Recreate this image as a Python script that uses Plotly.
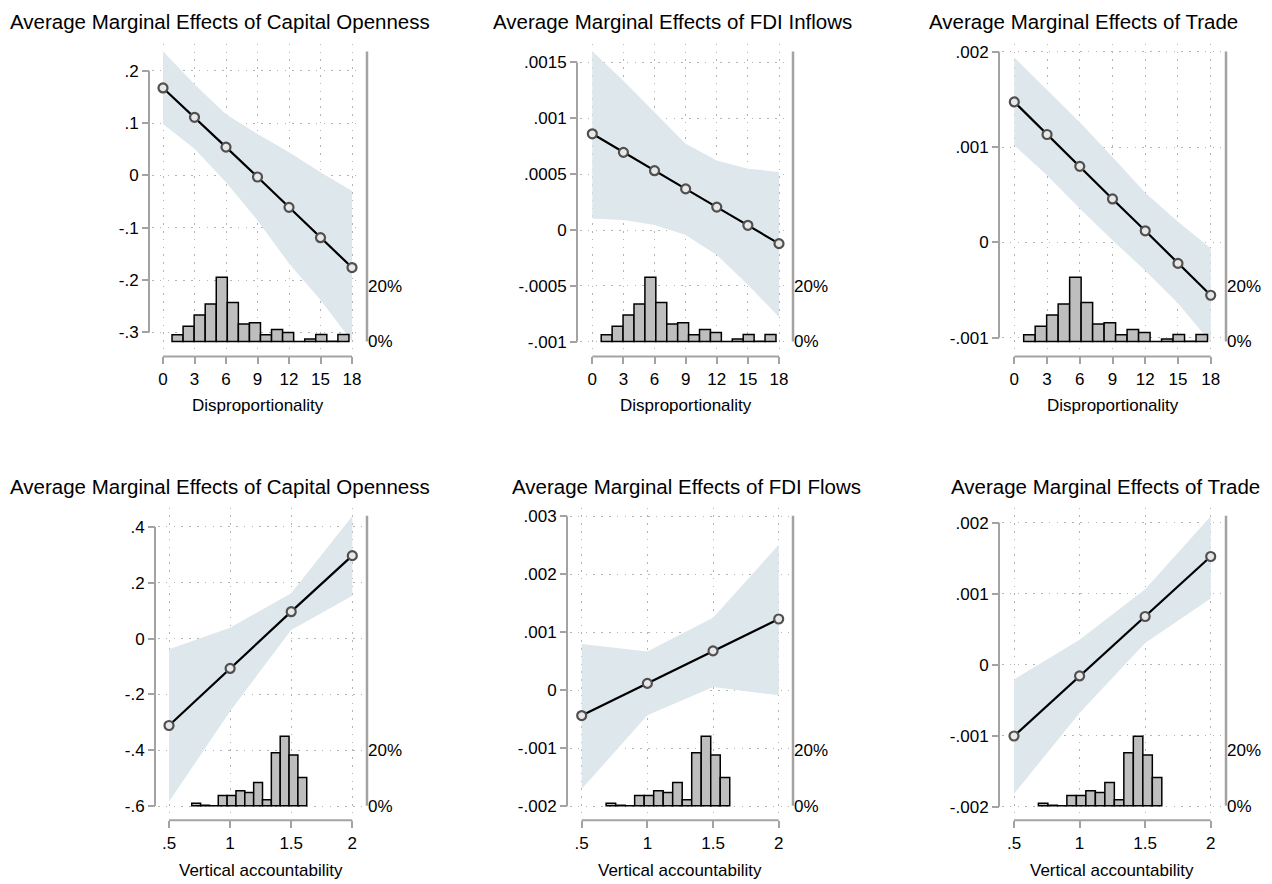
import plotly.graph_objects as go

W, H = 1272, 884

# ---------------- data ----------------
disp_x = [0, 3, 6, 9, 12, 15, 18]
va_x = [0.5, 1.0, 1.5, 2.0]

disp_ticks = [0, 3, 6, 9, 12, 15, 18]
disp_ticklabels = ["0", "3", "6", "9", "12", "15", "18"]
va_ticks = [0.5, 1.0, 1.5, 2.0]
va_ticklabels = [".5", "1", "1.5", "2"]

# Disproportionality models
cap_disp_me = [0.167, 0.111, 0.054, -0.003, -0.061, -0.119, -0.176]
cap_disp_hi = [0.237, 0.174, 0.117, 0.079, 0.044, 0.006, -0.030]
cap_disp_lo = [0.098, 0.051, -0.013, -0.086, -0.168, -0.238, -0.317]
cap_disp_yticks = [0.2, 0.1, 0.0, -0.1, -0.2, -0.3]
cap_disp_ylabels = [".2", ".1", "0", "-.1", "-.2", "-.3"]

fdi_disp_me = [0.000861, 0.000695, 0.000531, 0.000368, 0.000205, 0.000042, -0.000122]
fdi_disp_hi = [0.00160, 0.001336, 0.001054, 0.000772, 0.000623, 0.000549, 0.000520]
fdi_disp_lo = [0.000104, 0.000089, 0.000045, -0.000045, -0.000223, -0.000490, -0.000778]
fdi_disp_yticks = [0.0015, 0.001, 0.0005, 0.0, -0.0005, -0.001]
fdi_disp_ylabels = [".0015", ".001", ".0005", "0", "-.0005", "-.001"]

trade_disp_me = [0.001474, 0.001132, 0.000798, 0.000456, 0.000122, -0.000220, -0.000554]
trade_disp_hi = [0.00194, 0.00160, 0.00126, 0.000895, 0.00052, 0.000216, -0.00006]
trade_disp_lo = [0.001017, 0.000704, 0.000355, 0.000024, -0.000296, -0.000638, -0.00105]
trade_disp_yticks = [0.002, 0.001, 0.0, -0.001]
trade_disp_ylabels = [".002", ".001", "0", "-.001"]

# Vertical accountability models
cap_va_me = [-0.3115, -0.107, 0.0963, 0.297]
cap_va_hi = [-0.038, 0.039, 0.162, 0.439]
cap_va_lo = [-0.585, -0.260, 0.031, 0.153]
cap_va_yticks = [0.4, 0.2, 0.0, -0.2, -0.4, -0.6]
cap_va_ylabels = [".4", ".2", "0", "-.2", "-.4", "-.6"]

fdi_va_me = [-0.000435, 0.00012, 0.00068, 0.00123]
fdi_va_hi = [0.0008, 0.00067, 0.00125, 0.00251]
fdi_va_lo = [-0.0017, -0.00043, 0.000057, -0.000086]
fdi_va_yticks = [0.003, 0.002, 0.001, 0.0, -0.001, -0.002]
fdi_va_ylabels = [".003", ".002", ".001", "0", "-.001", "-.002"]

trade_va_me = [-0.001005, -0.000159, 0.000678, 0.001523]
trade_va_hi = [-0.00021, 0.00035, 0.00106, 0.00209]
trade_va_lo = [-0.00182, -0.00068, 0.000304, 0.00093]
trade_va_yticks = [0.002, 0.001, 0.0, -0.001, -0.002]
trade_va_ylabels = [".002", ".001", "0", "-.001", "-.002"]

# Distribution of the moderators (percent of observations per bin)
disp_bin_start = 0.86
disp_bin_width = 1.053
disp_hist_pct = [2.4, 5.5, 9.5, 13.4, 23.0, 14.0, 6.3, 6.7, 2.4, 4.3, 3.2, 0.0, 0.9, 2.5, 0.1, 2.5]

va_bin_start = 0.686
va_bin_width = 0.0724
va_hist_pct = [0.9, 0.15, 0.0, 3.6, 3.6, 5.3, 4.7, 8.3, 2.1, 19.0, 24.9, 18.2, 10.1]

pct_ticks = [0, 20]
pct_ticklabels = ["0%", "20%"]
pct_axis_top = 104

# ---------------- styling / geometry ----------------
FONT = "Liberation Sans, Arial, sans-serif"
AXIS_GRAY = "#a3a3a3"
GRID_GRAY = "#b4b4b4"
BAND = "#dde7ec"
HIST_FILL = "#bebebe"

panels = [
    dict(title="Average Marginal Effects of Capital Openness", xlab="Disproportionality",
         x=disp_x, me=cap_disp_me, hi=cap_disp_hi, lo=cap_disp_lo,
         yt=cap_disp_yticks, yl=cap_disp_ylabels, xt=disp_ticks, xl=disp_ticklabels,
         hist=(disp_bin_start, disp_bin_width, disp_hist_pct),
         box=(152, 362, 43, 350), xcal=(163, 352), ycal=(70, 333), hcal=(342, 286),
         ypos=149, rpos=367, xpos=357, tpos=(220, 21), xtpos=406),
    dict(title="Average Marginal Effects of FDI Inflows", xlab="Disproportionality",
         x=disp_x, me=fdi_disp_me, hi=fdi_disp_hi, lo=fdi_disp_lo,
         yt=fdi_disp_yticks, yl=fdi_disp_ylabels, xt=disp_ticks, xl=disp_ticklabels,
         hist=(disp_bin_start, disp_bin_width, disp_hist_pct),
         box=(580, 789, 43, 350), xcal=(592.3, 779), ycal=(61.7, 342.3), hcal=(342, 286),
         ypos=577, rpos=793, xpos=357, tpos=(672, 21), xtpos=406),
    dict(title="Average Marginal Effects of Trade", xlab="Disproportionality",
         x=disp_x, me=trade_disp_me, hi=trade_disp_hi, lo=trade_disp_lo,
         yt=trade_disp_yticks, yl=trade_disp_ylabels, xt=disp_ticks, xl=disp_ticklabels,
         hist=(disp_bin_start, disp_bin_width, disp_hist_pct),
         box=(1002, 1221, 43, 350), xcal=(1014.3, 1210.7), ycal=(51, 338.3), hcal=(342, 286),
         ypos=999, rpos=1226, xpos=357, tpos=(1083, 21), xtpos=406),
    dict(title="Average Marginal Effects of Capital Openness", xlab="Vertical accountability",
         x=va_x, me=cap_va_me, hi=cap_va_hi, lo=cap_va_lo,
         yt=cap_va_yticks, yl=cap_va_ylabels, xt=va_ticks, xl=va_ticklabels,
         hist=(va_bin_start, va_bin_width, va_hist_pct),
         box=(158, 362, 509, 816), xcal=(169, 352.3), ycal=(528.3, 808.7), hcal=(808.3, 752.3),
         ypos=155, rpos=367, xpos=823, tpos=(220, 488), xtpos=873),
    dict(title="Average Marginal Effects of FDI Flows", xlab="Vertical accountability",
         x=va_x, me=fdi_va_me, hi=fdi_va_hi, lo=fdi_va_lo,
         yt=fdi_va_yticks, yl=fdi_va_ylabels, xt=va_ticks, xl=va_ticklabels,
         hist=(va_bin_start, va_bin_width, va_hist_pct),
         box=(570, 789, 509, 816), xcal=(581.7, 778.7), ycal=(517.7, 809), hcal=(808.3, 752.3),
         ypos=567, rpos=793, xpos=823, tpos=(686, 488), xtpos=873),
    dict(title="Average Marginal Effects of Trade", xlab="Vertical accountability",
         x=va_x, me=trade_va_me, hi=trade_va_hi, lo=trade_va_lo,
         yt=trade_va_yticks, yl=trade_va_ylabels, xt=va_ticks, xl=va_ticklabels,
         hist=(va_bin_start, va_bin_width, va_hist_pct),
         box=(1002, 1221, 509, 816), xcal=(1014, 1210.7), ycal=(524, 809.3), hcal=(808.3, 752.3),
         ypos=999, rpos=1226, xpos=823, tpos=(1105, 488), xtpos=873),
]


def interp(p_a, v_a, p_b, v_b, p):
    return v_a + (p - p_a) * (v_b - v_a) / (p_b - p_a)


fig = go.Figure()
layout = dict(width=W, height=H, margin=dict(l=0, r=0, t=0, b=0),
              paper_bgcolor="white", plot_bgcolor="white", showlegend=False,
              font=dict(family=FONT, color="black"))
annotations = []
shapes = []

for k, p in enumerate(panels):
    xs = "" if k == 0 else str(k + 1)
    yl_id = str(2 * k + 1) if k > 0 else ""
    yr_id = str(2 * k + 2)
    xref, ylref, yrref = "x" + xs, "y" + yl_id, "y" + yr_id

    bx0, bx1, by0, by1 = p["box"]
    xt, yt = p["xt"], p["yt"]

    xr = [interp(p["xcal"][0], xt[0], p["xcal"][1], xt[-1], bx0),
          interp(p["xcal"][0], xt[0], p["xcal"][1], xt[-1], bx1)]
    yr = [interp(p["ycal"][0], yt[0], p["ycal"][1], yt[-1], by1),
          interp(p["ycal"][0], yt[0], p["ycal"][1], yt[-1], by0)]
    hr = [interp(p["hcal"][0], 0, p["hcal"][1], 20, by1),
          interp(p["hcal"][0], 0, p["hcal"][1], 20, by0)]

    xdom = [bx0 / W, bx1 / W]
    ydom = [1 - by1 / H, 1 - by0 / H]

    layout["xaxis" + xs] = dict(
        domain=xdom, range=xr, anchor="free", position=1 - p["xpos"] / H,
        tickvals=xt, ticktext=p["xl"], ticks="outside", ticklen=7, tickwidth=2,
        tickcolor=AXIS_GRAY, showline=False, zeroline=False,
        showgrid=True, gridcolor=GRID_GRAY, griddash="1.5px,6.3px", gridwidth=1,
        tickfont=dict(size=17, family=FONT, color="black"), fixedrange=True)
    layout["yaxis" + yl_id] = dict(
        domain=ydom, range=yr, anchor="free", position=p["ypos"] / W,
        tickvals=yt, ticktext=p["yl"], ticks="outside", ticklen=7, tickwidth=2,
        tickcolor=AXIS_GRAY, showline=False, zeroline=False,
        showgrid=True, gridcolor=GRID_GRAY, griddash="1.5px,6.3px", gridwidth=1,
        tickfont=dict(size=17, family=FONT, color="black"), fixedrange=True)
    layout["yaxis" + yr_id] = dict(
        overlaying=ylref, side="right", anchor="free", position=p["rpos"] / W,
        range=hr, tickvals=pct_ticks, ticktext=pct_ticklabels, ticks="",
        showgrid=False, zeroline=False, showline=False,
        tickfont=dict(size=17, family=FONT, color="black"), fixedrange=True)

    # confidence band
    fig.add_trace(go.Scatter(
        x=list(p["x"]) + list(p["x"])[::-1], y=list(p["hi"]) + list(p["lo"])[::-1],
        fill="toself", fillcolor=BAND, line=dict(width=0), mode="lines",
        hoverinfo="skip", xaxis=xref, yaxis=ylref))
    # marginal effect line
    fig.add_trace(go.Scatter(
        x=p["x"], y=p["me"], mode="lines+markers",
        line=dict(color="black", width=2.2),
        marker=dict(symbol="circle", size=9, color="#e8e8e8",
                    line=dict(color="#505050", width=2.2)),
        xaxis=xref, yaxis=ylref))
    # histogram of the moderator
    start, width, pct = p["hist"]
    centers = [start + width * (i + 0.5) for i in range(len(pct))]
    fig.add_trace(go.Bar(
        x=centers, y=pct, width=[width] * len(pct),
        marker=dict(color=HIST_FILL, line=dict(color="black", width=1.5)),
        xaxis=xref, yaxis="y" + yr_id))

    # axis lines spanning only the labelled range
    shapes.append(dict(type="line", xref="paper", yref=ylref,
                       x0=p["ypos"] / W, x1=p["ypos"] / W, y0=min(yt), y1=max(yt),
                       line=dict(color=AXIS_GRAY, width=2)))
    shapes.append(dict(type="line", xref=xref, yref="paper",
                       x0=min(xt), x1=max(xt), y0=1 - p["xpos"] / H, y1=1 - p["xpos"] / H,
                       line=dict(color=AXIS_GRAY, width=2)))
    shapes.append(dict(type="line", xref="paper", yref="y" + yr_id,
                       x0=p["rpos"] / W, x1=p["rpos"] / W, y0=0, y1=pct_axis_top,
                       line=dict(color=AXIS_GRAY, width=2.5)))

    annotations.append(dict(text=p["title"], xref="paper", yref="paper",
                            x=p["tpos"][0] / W, y=1 - p["tpos"][1] / H,
                            xanchor="center", yanchor="middle", showarrow=False,
                            font=dict(size=20.5, family=FONT, color="black")))
    annotations.append(dict(text=p["xlab"], xref=xref, yref="paper",
                            x=(min(xt) + max(xt)) / 2, y=1 - p["xtpos"] / H,
                            xanchor="center", yanchor="middle", showarrow=False,
                            font=dict(size=17, family=FONT, color="black")))

layout["annotations"] = annotations
layout["shapes"] = shapes
fig.update_layout(**layout)

fig.write_html("out.html")
